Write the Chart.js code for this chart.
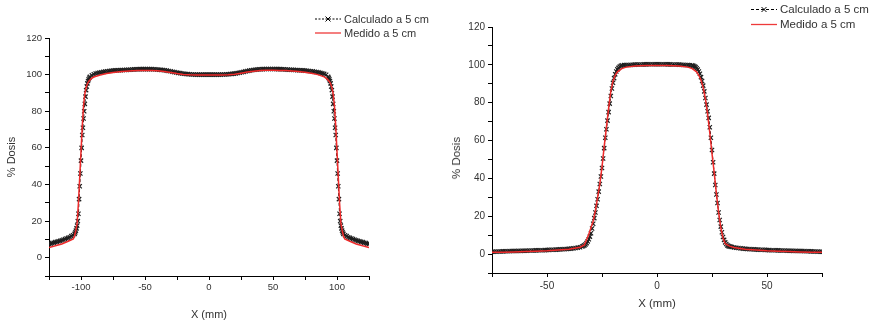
<!DOCTYPE html>
<html>
<head>
<meta charset="utf-8">
<script src="https://cdn.jsdelivr.net/npm/chart.js@4.4.0/dist/chart.umd.min.js"></script>
<style>
    body { margin: 0; background: #fff; font-family: "Liberation Sans", Arial, sans-serif; color: #333; }
    #wrap { position: relative; width: 873px; height: 326px; overflow: hidden; }
    canvas { position: absolute; top: 0; }
    .legend { position: absolute; white-space: nowrap; }
    .legend div { height: 14px; line-height: 14px; }
    .legend svg { vertical-align: top; margin-right: 3px; }
    .ytitle { position: absolute; white-space: nowrap; transform: translate(-50%, -50%) rotate(-90deg); }
</style>
</head>
<body>
<div id="wrap">
    <canvas id="chartLeft" width="440" height="326" style="left:0"></canvas>
    <canvas id="chartRight" width="433" height="326" style="left:440px"></canvas>

    <div class="legend" style="left:315px; top:12px; font-size:11px;">
        <div><svg width="26" height="14"><line x1="0" y1="7" x2="26" y2="7" stroke="#000" stroke-width="1" stroke-dasharray="2,1.5"/><line x1="10.5" y1="4.5" x2="15.5" y2="9.5" stroke="#000"/><line x1="15.5" y1="4.5" x2="10.5" y2="9.5" stroke="#000"/></svg>Calculado a 5 cm</div>
        <div><svg width="26" height="14"><line x1="0" y1="7" x2="26" y2="7" stroke="#ee3a3a" stroke-width="1.3"/></svg>Medido a 5 cm</div>
    </div>
    <div class="legend" style="left:751px; top:2px; font-size:11.5px;">
        <div style="height:15px; line-height:15px;"><svg width="26" height="15"><line x1="0" y1="7.5" x2="26" y2="7.5" stroke="#000" stroke-width="1" stroke-dasharray="3,2"/><line x1="10.5" y1="5" x2="15.5" y2="10" stroke="#000"/><line x1="15.5" y1="5" x2="10.5" y2="10" stroke="#000"/></svg>Calculado a 5 cm</div>
        <div style="height:15px; line-height:15px;"><svg width="26" height="15"><line x1="0" y1="7.5" x2="26" y2="7.5" stroke="#ee3a3a" stroke-width="1.3"/></svg>Medido a 5 cm</div>
    </div>
    <div class="ytitle" style="left:456px; top:158px; font-size:11.5px;">% Dosis</div>
</div>
<script>
'use strict';

// left plot: field 200 mm
var leftCalcX = [
    -125, -123.75, -122.5, -121.25, -120, -118.75, -117.5, -116.25, -115, -113.75,
    -112.5, -111.25, -110, -108.75, -107.5, -106.25, -105,
    -104.5, -104, -103.5, -103, -102.5, -102, -101.5, -101, -100.5, -100,
    -99.5, -99, -98.5, -98, -97.5, -97, -96.5, -96, -95.5, -95, -94.5, -94, -93.5, -93,
    -91.5, -90, -88.5, -87, -85.5, -84, -82.5, -81, -79.5, -78,
    -76.5, -75, -73.5, -72, -70.5, -69, -67.5, -66, -64.5, -63,
    -61.5, -60, -58.5, -57, -55.5, -54, -52.5, -51, -49.5, -48,
    -46.5, -45, -43.5, -42, -40.5, -39, -37.5, -36, -34.5, -33,
    -31.5, -30, -28.5, -27, -25.5, -24, -22.5, -21, -19.5, -18,
    -16.5, -15, -13.5, -12, -10.5, -9, -7.5, -6, -4.5, -3,
    -1.5, 0, 1.5, 3, 4.5, 6, 7.5, 9, 10.5, 12,
    13.5, 15, 16.5, 18, 19.5, 21, 22.5, 24, 25.5, 27,
    28.5, 30, 31.5, 33, 34.5, 36, 37.5, 39, 40.5, 42,
    43.5, 45, 46.5, 48, 49.5, 51, 52.5, 54, 55.5, 57,
    58.5, 60, 61.5, 63, 64.5, 66, 67.5, 69, 70.5, 72,
    73.5, 75, 76.5, 78, 79.5, 81, 82.5, 84, 85.5, 87,
    88.5, 90, 91.5,
    93, 93.5, 94, 94.5, 95, 95.5, 96, 96.5, 97, 97.5, 98, 98.5,
    99, 99.5, 100, 100.5, 101, 101.5, 102, 102.5, 103, 103.5, 104, 104.5,
    105, 106.25, 107.5, 108.75, 110, 111.25, 112.5, 113.75, 115, 116.25,
    117.5, 118.75, 120, 121.25, 122.5, 123.75, 125];
var leftCalcY = [
    7.5, 7.7, 8, 8.2, 8.5, 8.7, 9, 9.2, 9.5, 9.8,
    10.2, 10.5, 10.8, 11.2, 11.8, 12.3, 13,
    13.8, 14.8, 16, 17.5, 20, 24, 32, 39, 46, 53,
    60, 67, 71, 76, 80, 84, 88, 91.5, 93.5, 95.2, 96.5, 97.5, 98.3, 98.8,
    99.6, 100.2, 100.6, 100.9, 101.1, 101.3, 101.5, 101.7, 101.8, 101.95,
    102.1, 102.2, 102.3, 102.35, 102.4, 102.45, 102.5, 102.55, 102.6, 102.65,
    102.7, 102.8, 102.85, 102.9, 102.95, 103, 103, 103, 103, 103,
    103, 103, 102.95, 102.9, 102.8, 102.7, 102.6, 102.5, 102.35, 102.2,
    102, 101.8, 101.6, 101.35, 101.15, 100.95, 100.8, 100.6, 100.45, 100.35,
    100.25, 100.2, 100.1, 100.05, 100, 100, 100, 100, 100, 100,
    100, 100, 100, 100, 100, 100, 100, 100, 100.05, 100.1,
    100.15, 100.2, 100.3, 100.4, 100.55, 100.7, 100.9, 101.1, 101.3, 101.5,
    101.75, 102, 102.2, 102.4, 102.55, 102.7, 102.8, 102.9, 102.95, 103,
    103.05, 103.1, 103.1, 103.1, 103.1, 103.1, 103.05, 103, 103, 102.95,
    102.9, 102.8, 102.75, 102.7, 102.65, 102.6, 102.5, 102.45, 102.4, 102.35,
    102.3, 102.2, 102.1, 102, 101.85, 101.75, 101.6, 101.4, 101.2, 100.95,
    100.7, 100.4, 99.9,
    98.8, 98.2, 97.5, 96.5, 95.2, 93.5, 91.5, 88, 84, 80, 76, 71,
    67, 60, 53, 46, 39, 32, 24, 20, 17.5, 16, 14.8, 13.8,
    13, 12.3, 11.8, 11.2, 10.8, 10.5, 10.2, 9.8, 9.5, 9.2,
    9, 8.7, 8.5, 8.2, 8, 7.7, 7.5];
var leftMedX = [-125, -120, -115, -110, -106, -105, -104, -103, -102, -101, -100, -99, -98, -97, -96, -95, -94, -92,
    -90, -85, -80, -75, -70, -65, -60, -55, -50, -45, -40, -35, -30, -25, -20, -15, -10, -5, 0,
    5, 10, 15, 20, 25, 30, 35, 40, 45, 50, 55, 60, 65, 70, 75, 80, 85, 90,
    92, 94, 95, 96, 97, 98, 99, 100, 101, 102, 103, 104, 105, 106, 110, 115, 120, 125];
var leftMedY = [5.6, 6.5, 7.5, 9, 10.3, 12, 15, 19, 30, 44, 58, 72, 83, 89.5, 93, 95, 96.3, 97.8,
    98.7, 99.8, 100.6, 101.2, 101.6, 101.9, 102.1, 102.2, 102.3, 102.3, 102.1, 101.7, 101.2, 100.6, 100.1, 99.9, 99.8, 99.8, 99.8,
    99.8, 99.8, 99.9, 100.2, 100.8, 101.4, 101.9, 102.2, 102.4, 102.4, 102.3, 102.2, 102, 101.7, 101.3, 100.8, 100, 98.8,
    97.8, 96.3, 95, 93, 89.5, 83, 72, 58, 44, 30, 19, 15, 12, 10.3, 9, 7.5, 6.5, 5.6];

// right plot: field 50 mm
var rightCalcX = [
    -75, -74, -73, -72, -71, -70, -69, -68, -67, -66, -65, -64, -63, -62, -61, -60, -59, -58, -57, -56,
    -55, -54, -53, -52, -51, -50, -49, -48, -47, -46, -45, -44, -43, -42, -41, -40, -39, -38, -37, -36, -35,
    -34, -33.5, -33, -32.5, -32, -31.5, -31, -30.5, -30, -29.5, -29, -28.5, -28, -27.5, -27, -26.5, -26, -25.5,
    -25, -24.5, -24, -23.5, -23, -22.5, -22, -21.5, -21, -20.5, -20, -19.5, -19, -18.5, -18, -17.5, -17, -16.5, -16,
    -15, -14, -13, -12, -11, -10, -9, -8, -7, -6, -5, -4, -3, -2, -1, 0,
    1, 2, 3, 4, 5, 6, 7, 8, 9, 10, 11, 12, 13, 14, 15,
    16, 16.5, 17, 17.5, 18, 18.5, 19, 19.5, 20, 20.5, 21, 21.5, 22, 22.5, 23, 23.5, 24, 24.5, 25,
    25.5, 26, 26.5, 27, 27.5, 28, 28.5, 29, 29.5, 30, 30.5, 31, 31.5, 32, 32.5, 33, 33.5, 34,
    35, 36, 37, 38, 39, 40, 41, 42, 43, 44, 45, 46, 47, 48, 49, 50, 51, 52, 53, 54,
    55, 56, 57, 58, 59, 60, 61, 62, 63, 64, 65, 66, 67, 68, 69, 70, 71, 72, 73, 74, 75];
var rightCalcY = [
    1.2, 1.25, 1.3, 1.35, 1.4, 1.45, 1.5, 1.5, 1.55, 1.6, 1.6, 1.65, 1.7, 1.7, 1.75, 1.8, 1.8, 1.85, 1.9, 1.9,
    1.95, 2, 2, 2.05, 2.1, 2.15, 2.2, 2.25, 2.3, 2.35, 2.4, 2.5, 2.55, 2.6, 2.7, 2.8, 2.9, 3, 3.2, 3.4, 3.6,
    4, 4.3, 4.6, 5.1, 5.8, 6.7, 7.8, 9.2, 11, 13.5, 16, 19, 22, 25.5, 29, 33, 37, 41,
    45.5, 50.5, 56, 61.5, 66, 70.5, 75, 79.5, 83.5, 87.5, 90.5, 93, 95, 96.5, 97.6, 98.4, 99, 99.4, 99.7,
    99.85, 99.9, 99.95, 100, 100.05, 100.1, 100.15, 100.2, 100.2, 100.25, 100.25, 100.3, 100.3, 100.3, 100.3, 100.3,
    100.3, 100.3, 100.3, 100.3, 100.25, 100.25, 100.2, 100.2, 100.15, 100.1, 100.05, 100, 99.95, 99.9, 99.8,
    99.7, 99.5, 99.2, 98.8, 98.2, 97.5, 96.5, 95.3, 93.5, 91.5, 89, 86, 82.5, 79, 75.5, 72, 67, 61.5, 55,
    48.5, 42.5, 36.5, 31.5, 27, 22, 18, 14.5, 11.5, 9, 7.5, 6.2, 5.3, 4.6, 4.2, 4, 3.85, 3.7,
    3.5, 3.35, 3.2, 3, 2.9, 2.8, 2.7, 2.6, 2.55, 2.5, 2.4, 2.35, 2.3, 2.25, 2.2, 2.15, 2.1, 2.05, 2, 2,
    1.95, 1.9, 1.9, 1.85, 1.8, 1.8, 1.75, 1.7, 1.7, 1.65, 1.6, 1.6, 1.55, 1.5, 1.5, 1.45, 1.4, 1.35, 1.3, 1.25, 1.2];
var rightMedX = [-75, -70, -65, -60, -55, -50, -45, -40, -35, -33, -31, -29, -28, -27, -26, -25, -24, -23, -22, -21,
    -20, -19, -18, -16, -14, -10, -5, 0, 5, 10, 14, 16, 18, 19, 20, 21, 22, 23, 24, 25, 26, 27, 28, 29, 30, 31,
    33, 35, 40, 45, 50, 55, 60, 65, 70, 75];
var rightMedY = [0.9, 1, 1.1, 1.3, 1.5, 1.7, 2.1, 2.6, 3.6, 4.8, 10.5, 17.5, 23, 30, 37, 46, 57, 67, 77, 86,
    91.5, 94.5, 96.3, 98, 98.8, 99.4, 99.6, 99.7, 99.6, 99.4, 98.8, 98, 96.3, 94.5, 92, 88, 82, 74, 64, 53, 43, 32, 22, 14, 8.5, 5.5,
    4.2, 3.5, 2.6, 2.1, 1.7, 1.5, 1.3, 1.1, 1, 0.9];

var yMin = -10, yMax = 120;

function pairs(xs, ys) {
    return xs.map(function (x, i) { return {x: x, y: ys[i]}; });
}

function makeChart(id, o) {
    var ctx = document.getElementById(id).getContext('2d');
    var axisGrid = {drawOnChartArea: false, drawTicks: true, tickLength: 4, color: '#000'};
    new Chart(ctx, {
        type: 'scatter',
        data: {
            datasets: [
                {
                    label: 'Medido a 5 cm',
                    data: pairs(o.medX, o.medY),
                    showLine: true,
                    borderColor: '#ee2a2a',
                    borderWidth: 1.5,
                    pointRadius: 0,
                    order: 0
                },
                {
                    label: 'Calculado a 5 cm',
                    data: pairs(o.calcX, o.calcY),
                    showLine: true,
                    borderColor: '#000',
                    borderWidth: 1,
                    borderDash: [3, 2],
                    pointStyle: 'crossRot',
                    pointRadius: 3,
                    pointBorderColor: '#1e1e1e',
                    pointBorderWidth: 1.2,
                    order: 1
                }
            ]
        },
        options: {
            responsive: false,
            animation: false,
            layout: {padding: o.padding},
            plugins: {legend: {display: false}, tooltip: {enabled: false}},
            scales: {
                x: {
                    type: 'linear',
                    min: o.xMin,
                    max: o.xMax,
                    grid: axisGrid,
                    border: {display: true, color: '#000'},
                    ticks: {
                        stepSize: 25, autoSkip: false, maxRotation: 0, padding: o.xTickPad,
                        color: '#333', font: {family: 'Liberation Sans', size: o.tickSize},
                        callback: function (v) { return v % 50 === 0 ? String(v) : ''; }
                    },
                    title: {
                        display: true, text: 'X (mm)', color: '#333',
                        font: {family: 'Liberation Sans', size: o.titleSize},
                        padding: {top: 0, bottom: o.xTitlePad}
                    },
                    afterFit: function (scale) { scale.height = o.xHeight; }
                },
                y: {
                    min: yMin,
                    max: yMax,
                    grid: axisGrid,
                    border: {display: true, color: '#000'},
                    ticks: {
                        stepSize: 10, autoSkip: false, padding: 3,
                        color: '#333', font: {family: 'Liberation Sans', size: o.tickSize},
                        callback: function (v) { return v % 20 === 0 ? String(v) : ''; }
                    },
                    title: {
                        display: o.yTitle, text: '% Dosis', color: '#333',
                        font: {family: 'Liberation Sans', size: o.titleSize},
                        padding: {top: 5, bottom: 0}
                    },
                    afterFit: function (scale) { scale.width = o.yWidth; }
                }
            }
        }
    });
}

makeChart('chartLeft', {
    calcX: leftCalcX, calcY: leftCalcY, medX: leftMedX, medY: leftMedY,
    xMin: -125, xMax: 125,
    padding: {left: 0, right: 71, top: 38, bottom: 0},
    yWidth: 49, xHeight: 50, tickSize: 9.5, titleSize: 11,
    xTickPad: 2, xTitlePad: 4, yTitle: true
});

makeChart('chartRight', {
    calcX: rightCalcX, calcY: rightCalcY, medX: rightMedX, medY: rightMedY,
    xMin: -75, xMax: 75,
    padding: {left: 0, right: 51, top: 27, bottom: 0},
    yWidth: 52, xHeight: 53, tickSize: 10, titleSize: 11.5,
    xTickPad: 3, xTitlePad: 15, yTitle: false
});
</script>
</body>
</html>
